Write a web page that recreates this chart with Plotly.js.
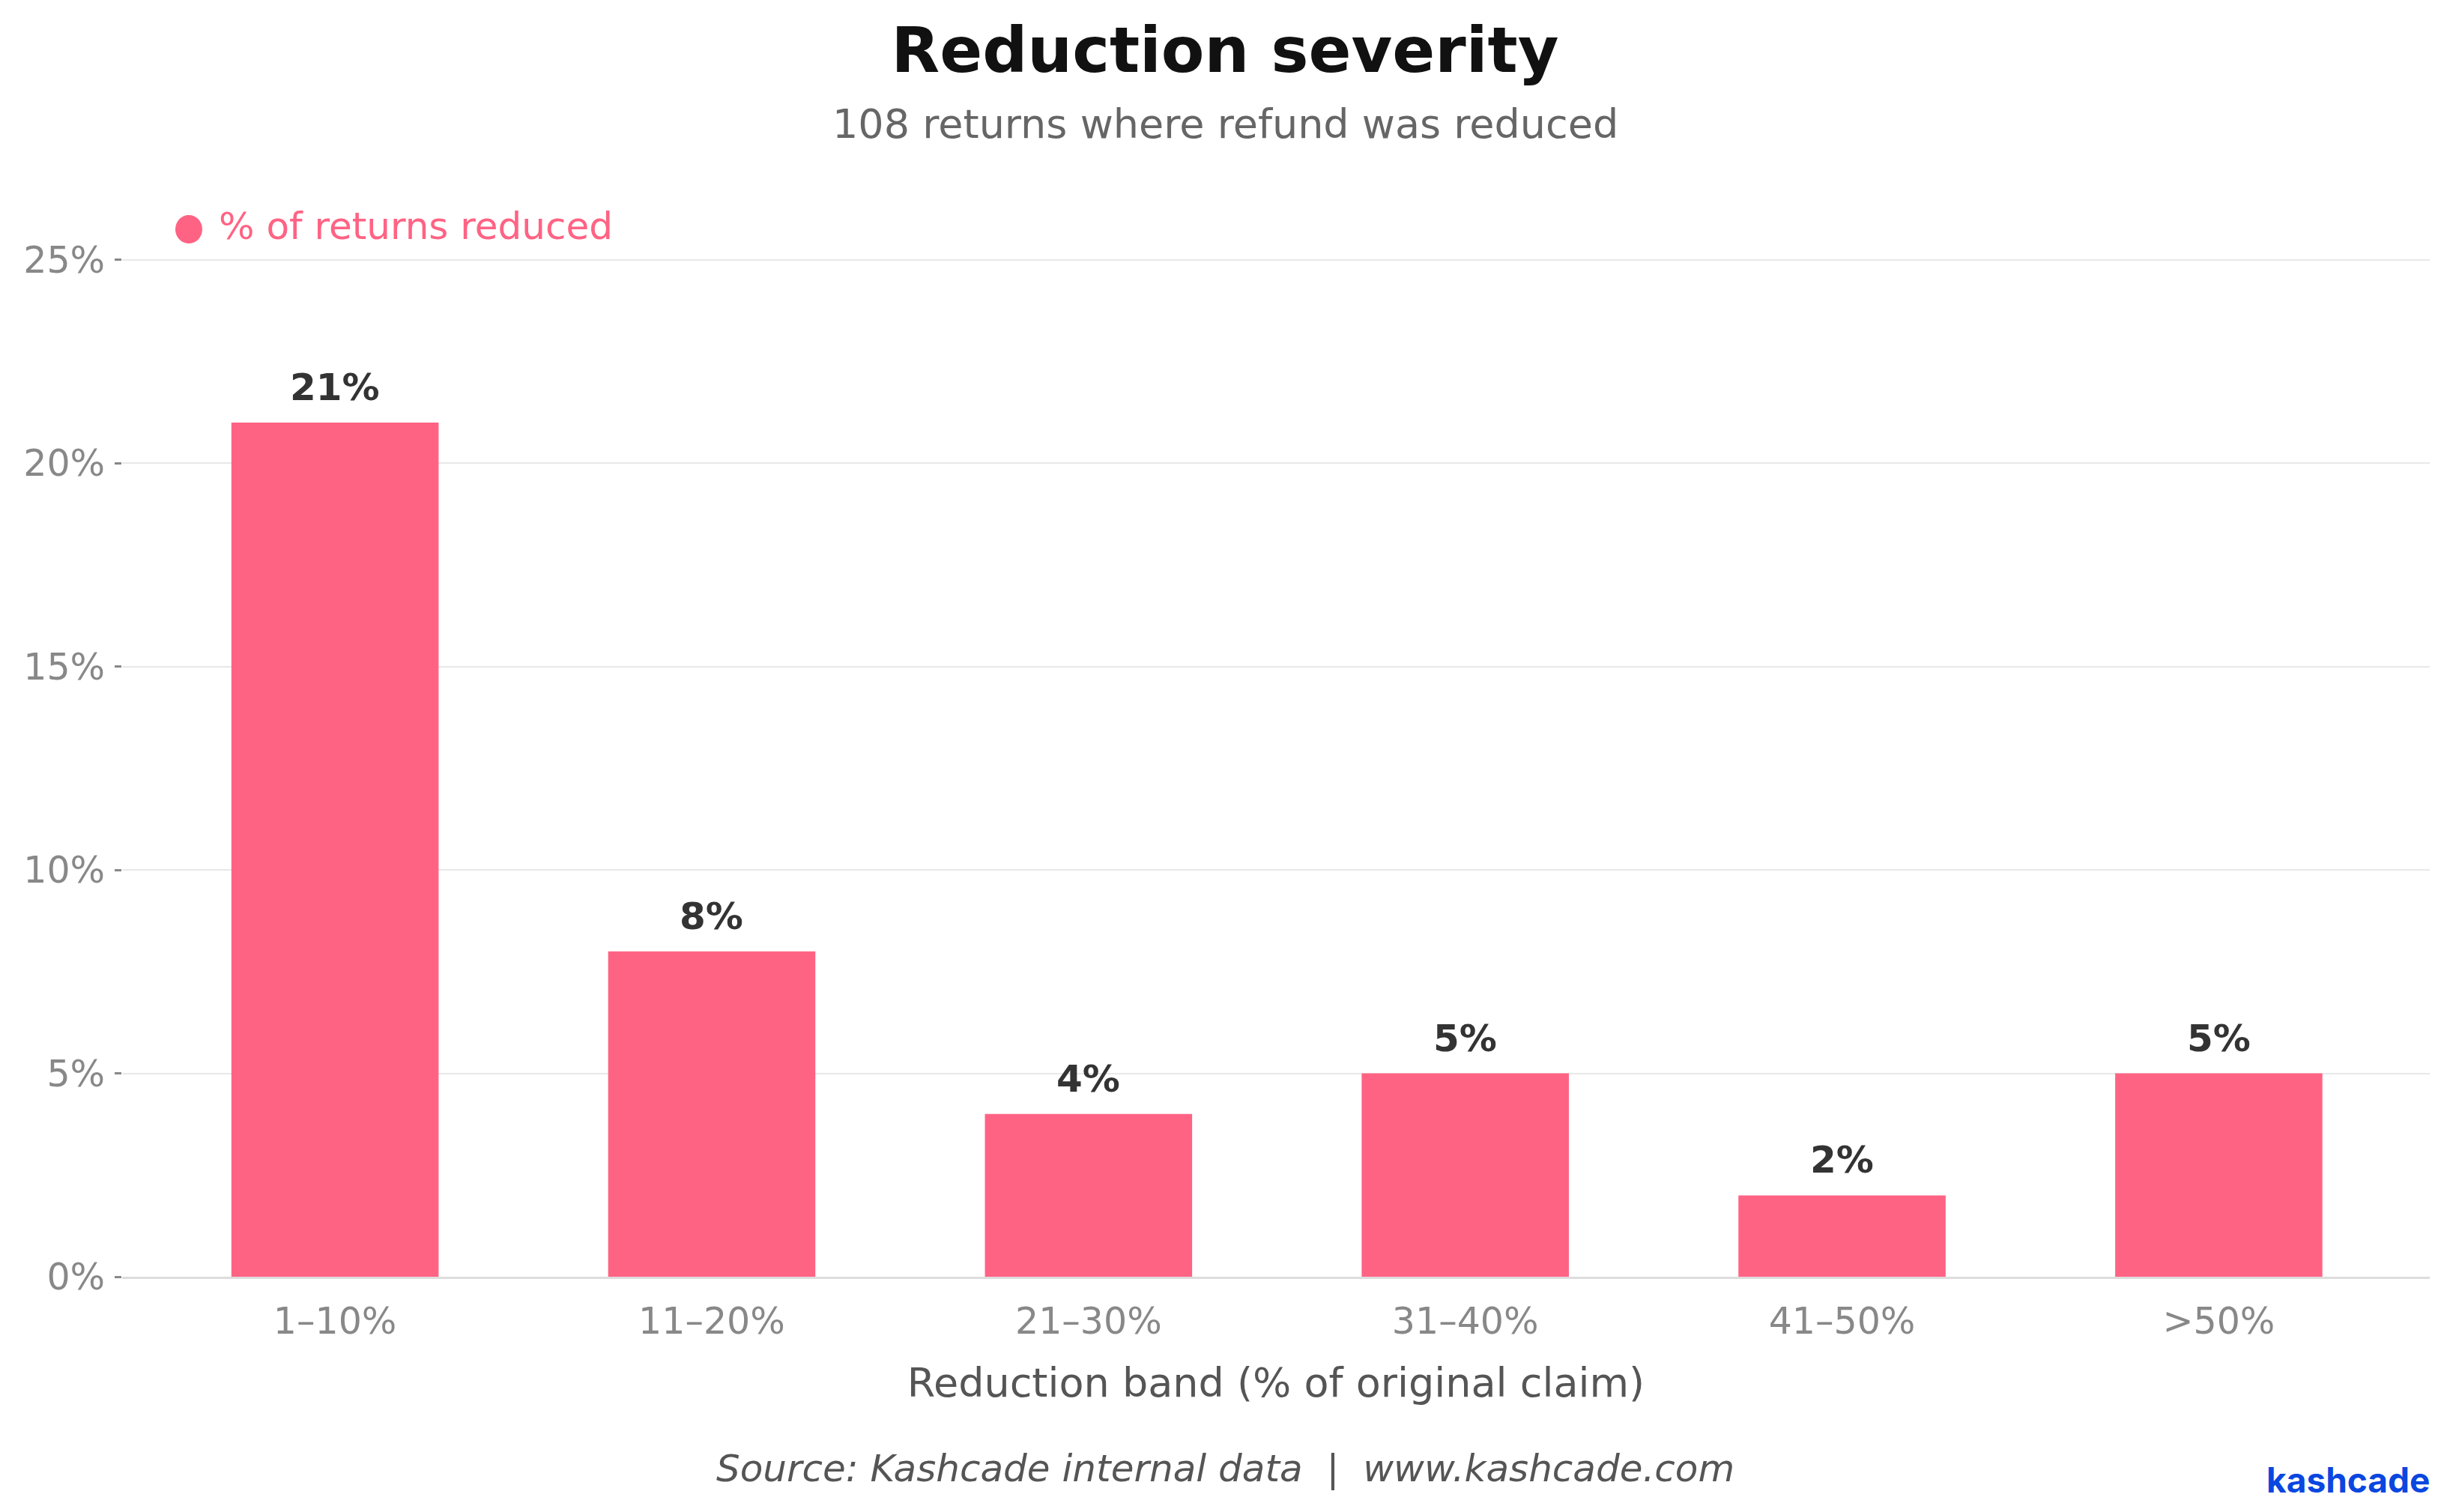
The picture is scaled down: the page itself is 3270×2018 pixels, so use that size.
<!DOCTYPE html>
<html>
<head>
<meta charset="utf-8">
<script src="https://cdn.plot.ly/plotly-3.0.1.min.js"></script>
<style>
  html, body { margin: 0; padding: 0; background: #fff; }
  #chart { width: 3270px; height: 2018px; }
</style>
</head>
<body>
<div id="chart"></div>
<script>
// reduction severity chart

const bands = ['1–10%', '11–20%', '21–30%', '31–40%', '41–50%', '>50%']
const pctReduced = [21, 8, 4, 5, 2, 5]
const yTicks = [0, 5, 10, 15, 20, 25]
const yTickText = yTicks.map(v => v + '%')

const W = 3270, H = 2018
const M = { l: 163, r: 27, t: 336, b: 314 }
const plotW = W - M.l - M.r
const plotH = H - M.t - M.b
// pixel -> paper coords
const px = x => (x - M.l) / plotW
const py = y => (H - M.b - y) / plotH

const PINK = '#FF6384'
const FONT = 'DejaVu Sans, Liberation Sans, sans-serif'

let barTrace = {
    type: 'bar',
    x: bands,
    y: pctReduced,
    width: 0.55,
    marker: { color: PINK, line: { width: 0 } },
    hoverinfo: 'skip',
    showlegend: false
}

// value labels above each bar
let valueLabels = bands.map((b, i) => ({
    x: b,
    y: pctReduced[i],
    xref: 'x',
    yref: 'y',
    text: pctReduced[i] + '%',
    showarrow: false,
    yanchor: 'bottom',
    yshift: 16,
    font: { family: FONT, size: 50, color: '#333333', weight: 'bold' }
}))

let annotations = valueLabels.concat([
    {
        // subtitle
        x: px(1635), y: py(165), xref: 'paper', yref: 'paper',
        text: '108 returns where refund was reduced',
        showarrow: false, xanchor: 'center', yanchor: 'middle',
        font: { family: FONT, size: 54, color: '#666666' }
    },
    {
        // legend label
        x: px(290), y: py(302), xref: 'paper', yref: 'paper',
        text: '% of returns reduced',
        showarrow: false, xanchor: 'left', yanchor: 'middle',
        font: { family: FONT, size: 50, color: PINK }
    },
    {
        // source line
        x: px(1635), y: py(1960), xref: 'paper', yref: 'paper',
        text: 'Source: Kashcade internal data  |  www.kashcade.com',
        showarrow: false, xanchor: 'center', yanchor: 'middle',
        font: { family: FONT, size: 50, color: '#555555', style: 'italic' }
    },
    {
        // logo
        x: px(3245), y: py(1975), xref: 'paper', yref: 'paper',
        text: 'kashcade',
        showarrow: false, xanchor: 'right', yanchor: 'middle',
        font: { family: 'Inter, Lato, sans-serif', size: 46, color: '#0A47E0', weight: 700 }
    }
])

const layout = {
    width: W,
    height: H,
    margin: M,
    paper_bgcolor: '#ffffff',
    plot_bgcolor: '#ffffff',
    font: { family: FONT },
    title: {
        text: 'Reduction severity',
        x: 0.5, xref: 'container', xanchor: 'center',
        y: 1 - 67 / H, yref: 'container', yanchor: 'middle',
        font: { family: FONT, size: 84, color: '#111111', weight: 'bold' }
    },
    xaxis: {
        type: 'category',
        range: [-0.565, 5.56],
        showgrid: false,
        zeroline: false,
        showline: true,
        linecolor: '#dddddd',
        linewidth: 3,
        ticks: 'outside',
        ticklen: 14,
        tickcolor: 'rgba(0,0,0,0)',
        tickfont: { family: FONT, size: 49, color: '#888888' },
        title: {
            text: 'Reduction band (% of original claim)',
            standoff: 36,
            font: { family: FONT, size: 54, color: '#555555' }
        },
        fixedrange: true
    },
    yaxis: {
        range: [0, 25.2],
        tickvals: yTicks,
        ticktext: yTickText,
        showgrid: true,
        gridcolor: '#e8e8e8',
        gridwidth: 2,
        zeroline: false,
        showline: false,
        ticks: 'outside',
        ticklen: 9,
        tickwidth: 3,
        tickcolor: '#888888',
        ticklabelstandoff: 3,
        tickfont: { family: FONT, size: 49, color: '#888888' },
        fixedrange: true
    },
    shapes: [
        {
            // legend dot
            type: 'circle',
            xref: 'paper', yref: 'paper',
            xsizemode: 'pixel', ysizemode: 'pixel',
            xanchor: px(252), yanchor: py(306),
            x0: -18, x1: 18, y0: -19, y1: 19,
            fillcolor: PINK,
            line: { width: 0 }
        }
    ],
    annotations: annotations,
    showlegend: false,
    bargap: 0.45
}

Plotly.newPlot('chart', [barTrace], layout, { displayModeBar: false, staticPlot: true })
</script>
</body>
</html>
